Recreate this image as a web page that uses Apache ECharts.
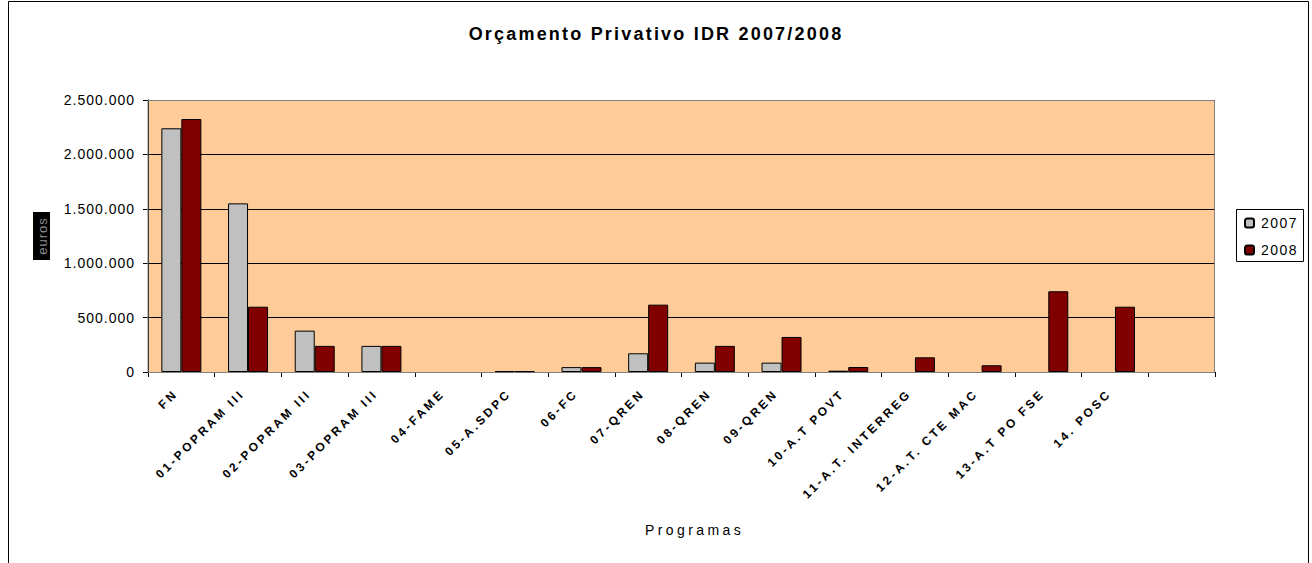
<!DOCTYPE html>
<html>
<head>
<meta charset="utf-8">
<script src="https://cdn.jsdelivr.net/npm/echarts@6/dist/echarts.min.js"></script>
<style>
  html, body { margin: 0; padding: 0; background: #ffffff; }
  #chart { width: 1312px; height: 563px; }
</style>
</head>
<body>
<div id="chart"></div>
<script>
// Programmes (categories) and yearly budgets in euros; null = no budget line
const programas = [
  'FN', '01-POPRAM III', '02-POPRAM III', '03-POPRAM III', '04-FAME',
  '05-A.SDPC', '06-FC', '07-QREN', '08-QREN', '09-QREN',
  '10-A.T POVT', '11-A.T. INTERREG', '12-A.T. CTE MAC', '13-A.T PO FSE', '14. POSC', ''
];
const valores2007 = [2240000, 1550000, 380000, 240000, null, 8000, 45000, 172000, 86000, 86000, 12000, null, null, null, null, null];
const valores2008 = [2325000, 600000, 240000, 240000, null, 8000, 45000, 619000, 240000, 322000, 46000, 135000, 62000, 742000, 600000, null];
const anos = ['2007', '2008'];
const yTicks = [0, 500000, 1000000, 1500000, 2000000, 2500000];

const tituloTexto = 'Orçamento Privativo IDR 2007/2008';
const eixoXNome = 'Programas';
const eixoYNome = 'euros';

const fmt = v => String(v).replace(/\B(?=(\d{3})+(?!\d))/g, '.');
const font = '"Liberation Sans", Arial, sans-serif';

// plot area in pixels
const G = { left: 148, top: 100, right: 1215, bottom: 372 };

const chart = echarts.init(document.getElementById('chart'), null, { renderer: 'svg' });
chart.setOption({
  animation: false,
  backgroundColor: '#ffffff',
  textStyle: { fontFamily: font },
  title: {
    text: tituloTexto,
    left: 'center',
    top: 20,
    textStyle: { fontSize: 18, fontWeight: 'bold', color: '#000', fontFamily: font }
  },
  graphic: [
    { type: 'rect', shape: { x: 8.5, y: 1.5, width: 1300, height: 580 },
      style: { fill: 'none', stroke: '#000', lineWidth: 1 }, silent: true, z: 0 },
    // y-axis title box
    { type: 'rect', shape: { x: 33, y: 212, width: 17, height: 48 },
      style: { fill: '#000' }, z: 10 },
    { type: 'text', x: 42, y: 236, rotation: Math.PI / 2,
      style: { text: eixoYNome, fill: '#8c8c8c', font: '13px ' + font, textAlign: 'center', textVerticalAlign: 'middle' }, z: 11 },
    // plot area frame (top/right edges)
    { type: 'rect', shape: { x: G.left, y: G.top + 0.5, width: G.right - G.left - 0.5, height: G.bottom - G.top },
      style: { fill: 'none', stroke: '#808080', lineWidth: 1 }, z: 1, silent: true },
    // legend frame
    { type: 'rect', shape: { x: 1236.5, y: 209.5, width: 67, height: 52 },
      style: { fill: '#fff', stroke: '#000', lineWidth: 1 }, z: 0, silent: true }
  ],
  legend: {
    orient: 'vertical',
    left: 1244,
    top: 215,
    padding: 0,
    itemGap: 11,
    itemWidth: 9,
    itemHeight: 9,
    data: anos,
    z: 5,
    textStyle: { fontSize: 14, color: '#000', fontFamily: font, padding: [0, 0, 0, 2], lineHeight: 16 }
  },
  grid: {
    left: G.left, right: 1312 - G.right, top: G.top, bottom: 563 - G.bottom,
    show: true, backgroundColor: '#FFCC99', borderWidth: 0
  },
  xAxis: {
    type: 'category',
    data: programas,
    name: eixoXNome,
    nameLocation: 'middle',
    nameGap: 151,
    nameTextStyle: { fontSize: 14, color: '#000', fontFamily: font, padding: [0, 0, 0, 26] },
    axisLine: { lineStyle: { color: '#000', width: 1 } },
    axisTick: { show: true, length: 5, lineStyle: { color: '#000' } },
    axisLabel: {
      interval: 0,
      rotate: 45,
      margin: 14,
      padding: [0, 8, 0, 0],
      fontSize: 12,
      fontWeight: 'bold',
      color: '#000',
      fontFamily: font
    }
  },
  yAxis: {
    type: 'value',
    min: yTicks[0],
    max: yTicks[yTicks.length - 1],
    interval: yTicks[1] - yTicks[0],
    axisLine: { show: true, lineStyle: { color: '#000' } },
    axisTick: { show: true, length: 5, lineStyle: { color: '#000' } },
    axisLabel: { formatter: v => fmt(v), fontSize: 14, color: '#000', margin: 13, fontFamily: font },
    splitLine: { lineStyle: { color: '#000', width: 1 } }
  },
  series: [
    {
      name: anos[0], type: 'bar', data: valores2007,
      barWidth: 20, barGap: '0%',
      itemStyle: { color: '#C0C0C0', borderColor: '#000', borderWidth: 1 }
    },
    {
      name: anos[1], type: 'bar', data: valores2008,
      barWidth: 20,
      itemStyle: { color: '#800000', borderColor: '#000', borderWidth: 1 }
    }
  ]
});

// wide letter spacing of the printed chart typography
const spacing = new Map();
spacing.set(tituloTexto, 2.2);
spacing.set(eixoXNome, 3.4);
spacing.set(eixoYNome, 1);
anos.forEach(a => spacing.set(a, 1.5));
yTicks.forEach(t => spacing.set(fmt(t), 1));
programas.forEach(p => { if (p) spacing.set(p, 2.8); });

function applySpacing() {
  document.querySelectorAll('#chart svg text').forEach(el => {
    const s = spacing.get(el.textContent.trim());
    if (s !== undefined) el.style.letterSpacing = s + 'px';
  });
}
applySpacing();
chart.on('finished', applySpacing);
</script>
</body>
</html>
